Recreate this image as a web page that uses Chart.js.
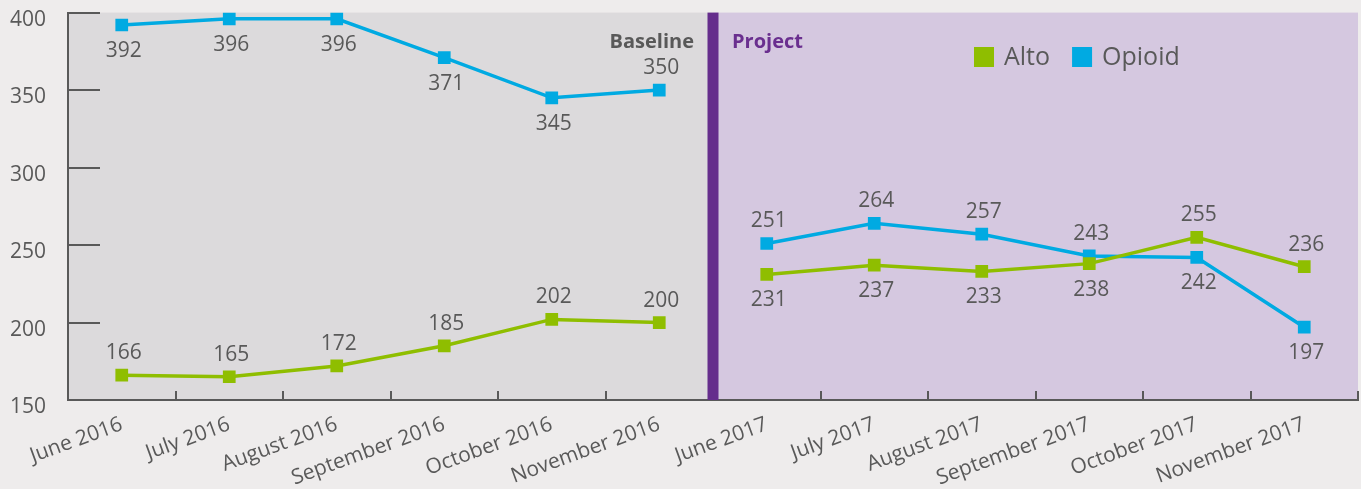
<!DOCTYPE html>
<html>
<head>
<meta charset="utf-8">
<script src="https://cdn.jsdelivr.net/npm/chart.js@4/dist/chart.umd.min.js"></script>
<style>
  html, body { margin: 0; padding: 0; background: #eeecec; overflow: hidden; }
  #wrap { width: 1361px; height: 489px; overflow: hidden; }
</style>
</head>
<body>
<div id="wrap"><canvas id="myChart" width="1367" height="489"></canvas></div>
<script>
// data
const months = ['June 2016', 'July 2016', 'August 2016', 'September 2016', 'October 2016', 'November 2016',
  'June 2017', 'July 2017', 'August 2017', 'September 2017', 'October 2017', 'November 2017'];
const alto = [166, 165, 172, 185, 202, 200, 231, 237, 233, 238, 255, 236];
const opioid = [392, 396, 396, 371, 345, 350, 251, 264, 257, 243, 242, 197];
const yTicks = [150, 200, 250, 300, 350, 400];

// where each value label sits (1 = above the point, -1 = below)
const altoLabelSide = [1, 1, 1, 1, 1, 1, -1, -1, -1, -1, 1, 1];
const opioidLabelSide = [-1, -1, -1, -1, -1, 1, 1, 1, 1, 1, -1, -1];

const gapAfter = 5; // last baseline month
const grey = '#595959';
const font = "'Open Sans', 'Noto Sans', sans-serif";

const ctx = document.getElementById('myChart');

// backgrounds, separator, inner ticks, labels, legend
const decor = {
  id: 'decor',
  beforeDraw(chart) {
    const c = chart.ctx, a = chart.chartArea, x = chart.scales.x;
    const sep = (x.getPixelForValue(gapAfter) + x.getPixelForValue(gapAfter + 1)) / 2;
    c.save();
    c.fillStyle = '#eeecec';
    c.fillRect(0, 0, chart.width, chart.height);
    c.fillStyle = '#dcdadc';
    c.fillRect(a.left, a.top, sep - a.left, a.bottom - a.top);
    c.fillStyle = '#d5c8e0';
    c.fillRect(sep, a.top, a.right - sep, a.bottom - a.top);
    c.restore();
  },
  afterDatasetsDraw(chart) {
    const c = chart.ctx, a = chart.chartArea, x = chart.scales.x, y = chart.scales.y;
    const sep = (x.getPixelForValue(gapAfter) + x.getPixelForValue(gapAfter + 1)) / 2;
    c.save();
    // purple divider
    c.fillStyle = '#652d8c';
    c.fillRect(sep - 5.5, a.top, 11, a.bottom - a.top);

    // ticks drawn inward
    c.strokeStyle = grey;
    c.lineWidth = 2;
    yTicks.forEach(v => {
      const py = Math.round(y.getPixelForValue(v));
      c.beginPath(); c.moveTo(a.left, py); c.lineTo(a.left + 32, py); c.stroke();
    });
    for (let i = 1; i <= months.length; i++) {
      if (i === gapAfter + 1) continue;
      const px = Math.round((x.getPixelForValue(i - 1) + x.getPixelForValue(Math.min(i, months.length - 1))) / 2);
      const bx = i === months.length ? a.right : px;
      c.beginPath(); c.moveTo(bx, a.bottom); c.lineTo(bx, a.bottom - 9); c.stroke();
    }

    // Baseline / Project captions
    c.font = 'bold 20px ' + font;
    c.textBaseline = 'middle';
    c.fillStyle = grey;
    c.textAlign = 'right';
    c.fillText('Baseline', sep - 19, 42);
    c.fillStyle = '#6a2f8f';
    c.textAlign = 'left';
    c.fillText('Project', sep + 19, 42);

    // value labels
    c.font = '21px ' + font;
    c.fillStyle = grey;
    c.textAlign = 'center';
    const sides = [altoLabelSide, opioidLabelSide];
    chart.data.datasets.forEach((ds, di) => {
      chart.getDatasetMeta(di).data.forEach((pt, i) => {
        c.fillText(ds.data[i], pt.x + 2, pt.y - sides[di][i] * 24 + 2);
      });
    });

    // legend
    c.font = '25px ' + font;
    c.textAlign = 'left';
    let lx = 974;
    chart.data.datasets.forEach(ds => {
      c.fillStyle = ds.borderColor;
      c.fillRect(lx, 47, 20, 20);
      c.fillStyle = grey;
      c.fillText(ds.label, lx + 30, 58);
      lx += 30 + c.measureText(ds.label).width + 22;
    });
    c.restore();
  }
};

new Chart(ctx, {
  type: 'line',
  data: {
    labels: months,
    datasets: [{
      label: 'Alto',
      data: alto,
      borderColor: '#8fbe00',
      backgroundColor: '#8fbe00',
      borderWidth: 3.5,
      pointStyle: 'rect',
      pointRadius: 9,
      pointBorderWidth: 0,
      tension: 0,
      segment: { borderColor: s => s.p0DataIndex === gapAfter ? 'transparent' : undefined }
    }, {
      label: 'Opioid',
      data: opioid,
      borderColor: '#00aae2',
      backgroundColor: '#00aae2',
      borderWidth: 3.5,
      pointStyle: 'rect',
      pointRadius: 9,
      pointBorderWidth: 0,
      tension: 0,
      segment: { borderColor: s => s.p0DataIndex === gapAfter ? 'transparent' : undefined }
    }]
  },
  options: {
    responsive: false,
    animation: false,
    layout: { padding: { top: 0, right: 0, left: 10, bottom: 0 } },
    plugins: {
      legend: { display: false },
      tooltip: { enabled: false }
    },
    scales: {
      x: {
        offset: true,
        grid: { display: false, drawTicks: false },
        border: { display: true, color: grey, width: 2 },
        afterFit: s => { s.height = 89; },
        ticks: {
          color: grey,
          font: { family: font, size: 21 },
          minRotation: 20,
          maxRotation: 20,
          padding: 12,
          autoSkip: false
        }
      },
      y: {
        min: 150,
        max: 400,
        grid: { display: false, drawTicks: false },
        border: { display: true, color: grey, width: 2 },
        afterFit: s => { s.width = 58; },
        ticks: {
          stepSize: 50,
          color: grey,
          font: { family: font, size: 21 },
          padding: 0,
          crossAlign: 'far',
          labelOffset: 7
        }
      }
    }
  },
  plugins: [decor]
});
</script>
</body>
</html>
